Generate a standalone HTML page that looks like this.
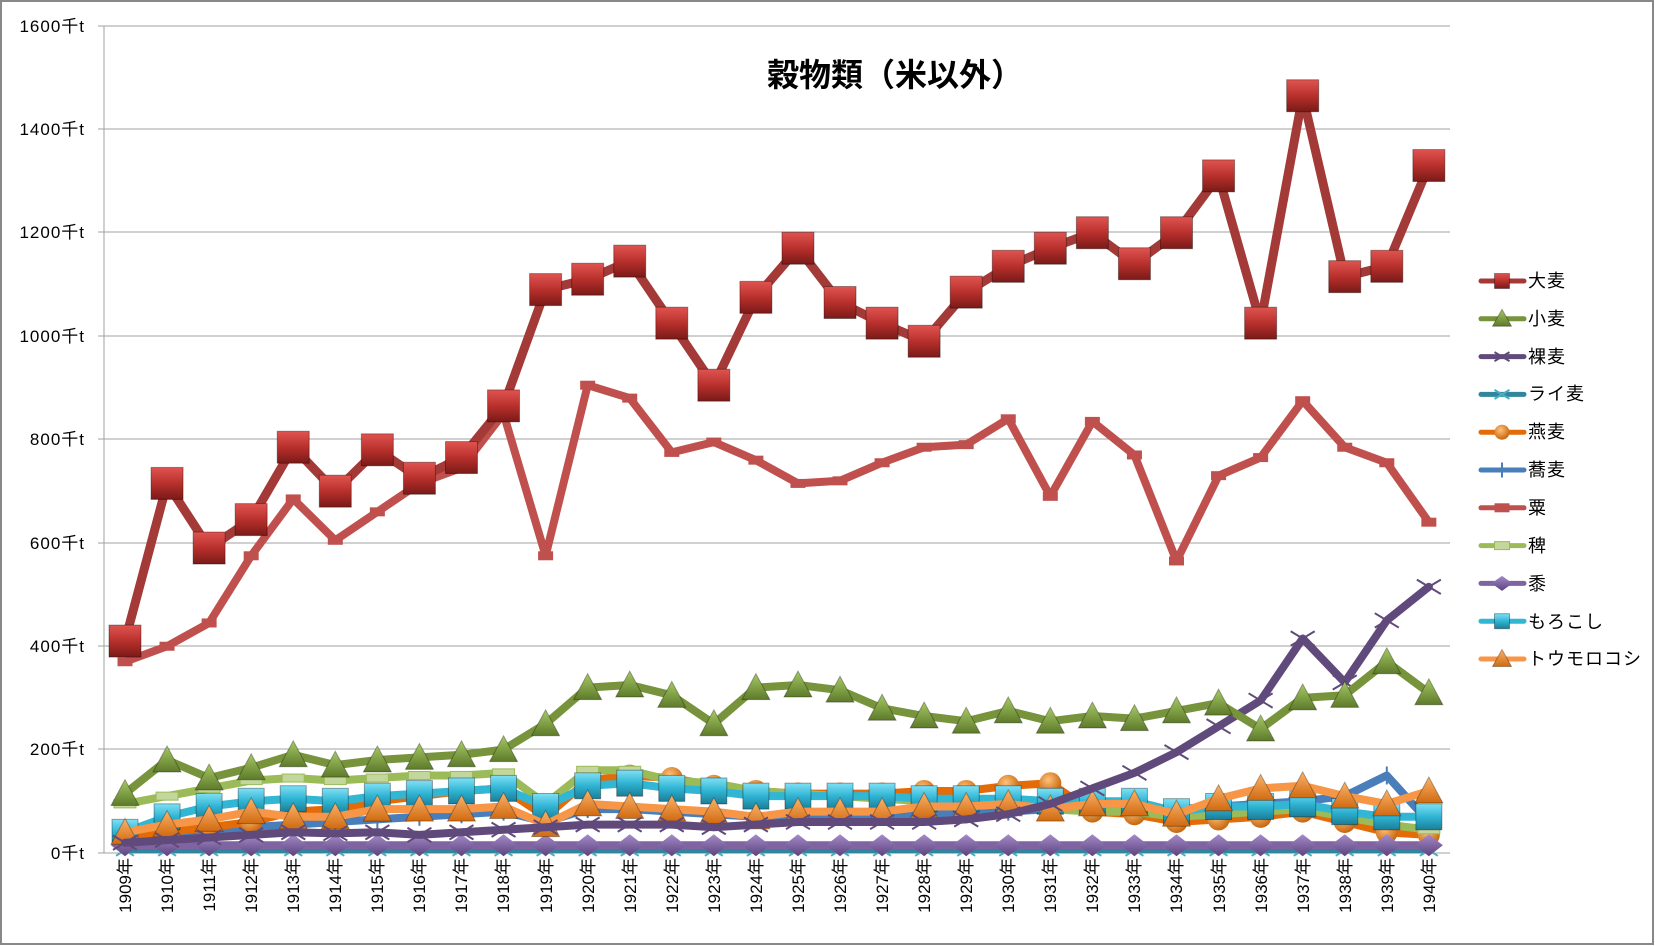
<!DOCTYPE html>
<html><head><meta charset="utf-8"><style>
html,body{margin:0;padding:0;background:#fff}
svg{display:block}
text{font-family:"Liberation Sans","Noto Sans CJK JP",sans-serif}
</style></head><body>
<svg id="s" width="1655" height="946" viewBox="0 0 1655 946" xmlns="http://www.w3.org/2000/svg">
<defs>
<linearGradient id="gR" x1="0" y1="0" x2="0" y2="1"><stop offset="0" stop-color="#e05450"/><stop offset="0.5" stop-color="#b8302c"/><stop offset="1" stop-color="#7a1a18"/></linearGradient>
<linearGradient id="gG" x1="0" y1="0" x2="0" y2="1"><stop offset="0" stop-color="#a6c964"/><stop offset="1" stop-color="#5d7a2a"/></linearGradient>
<linearGradient id="gC" x1="0" y1="0" x2="0" y2="1"><stop offset="0" stop-color="#7fe0f4"/><stop offset="0.5" stop-color="#2fb4d4"/><stop offset="1" stop-color="#1b7e98"/></linearGradient>
<linearGradient id="gO" x1="0" y1="0" x2="0" y2="1"><stop offset="0" stop-color="#fbb26a"/><stop offset="1" stop-color="#d06a10"/></linearGradient>
<radialGradient id="gOc" cx="0.4" cy="0.35" r="0.7"><stop offset="0" stop-color="#ffc27a"/><stop offset="1" stop-color="#c35f07"/></radialGradient>
<linearGradient id="gP" x1="0" y1="0" x2="0" y2="1"><stop offset="0" stop-color="#a58bc8"/><stop offset="1" stop-color="#5b437e"/></linearGradient>
</defs>
<rect x="1" y="1" width="1652" height="943" fill="#fff" stroke="#888" stroke-width="2"/>
<g stroke="#a0a0a0" stroke-width="1">
<line x1="98" y1="26" x2="1450" y2="26"/><line x1="98" y1="129" x2="1450" y2="129"/><line x1="98" y1="232" x2="1450" y2="232"/><line x1="98" y1="336" x2="1450" y2="336"/><line x1="98" y1="439" x2="1450" y2="439"/><line x1="98" y1="543" x2="1450" y2="543"/><line x1="98" y1="646" x2="1450" y2="646"/><line x1="98" y1="749" x2="1450" y2="749"/><line x1="98" y1="853" x2="1450" y2="853"/>
<line x1="104" y1="26" x2="104" y2="853"/>
</g>
<g font-size="17" text-anchor="end" fill="#000" letter-spacing="1">
<text x="85" y="32">1600千t</text><text x="85" y="135">1400千t</text><text x="85" y="238">1200千t</text><text x="85" y="342">1000千t</text><text x="85" y="445">800千t</text><text x="85" y="549">600千t</text><text x="85" y="652">400千t</text><text x="85" y="755">200千t</text><text x="85" y="859">0千t</text>
</g>
<text x="895" y="86" font-size="32" font-weight="bold" text-anchor="middle">穀物類（米以外）</text>
<g id="series"></g>
<g id="leg"></g>
<g font-size="18" fill="#000" letter-spacing="1">
<text x="1528" y="287">大麦</text><text x="1528" y="325">小麦</text><text x="1528" y="363">裸麦</text><text x="1528" y="400">ライ麦</text><text x="1528" y="438">燕麦</text><text x="1528" y="476">蕎麦</text><text x="1528" y="514">粟</text><text x="1528" y="552">稗</text><text x="1528" y="590">黍</text><text x="1528" y="628">もろこし</text><text x="1528" y="665">トウモロコシ</text>
</g>
<g font-size="17" fill="#000">
<text transform="translate(131,858) rotate(-90)" text-anchor="end">1909年</text>
<text transform="translate(173,858) rotate(-90)" text-anchor="end">1910年</text>
<text transform="translate(215,858) rotate(-90)" text-anchor="end">1911年</text>
<text transform="translate(257,858) rotate(-90)" text-anchor="end">1912年</text>
<text transform="translate(299,858) rotate(-90)" text-anchor="end">1913年</text>
<text transform="translate(341,858) rotate(-90)" text-anchor="end">1914年</text>
<text transform="translate(383,858) rotate(-90)" text-anchor="end">1915年</text>
<text transform="translate(425,858) rotate(-90)" text-anchor="end">1916年</text>
<text transform="translate(467,858) rotate(-90)" text-anchor="end">1917年</text>
<text transform="translate(509,858) rotate(-90)" text-anchor="end">1918年</text>
<text transform="translate(552,858) rotate(-90)" text-anchor="end">1919年</text>
<text transform="translate(594,858) rotate(-90)" text-anchor="end">1920年</text>
<text transform="translate(636,858) rotate(-90)" text-anchor="end">1921年</text>
<text transform="translate(678,858) rotate(-90)" text-anchor="end">1922年</text>
<text transform="translate(720,858) rotate(-90)" text-anchor="end">1923年</text>
<text transform="translate(762,858) rotate(-90)" text-anchor="end">1924年</text>
<text transform="translate(804,858) rotate(-90)" text-anchor="end">1925年</text>
<text transform="translate(846,858) rotate(-90)" text-anchor="end">1926年</text>
<text transform="translate(888,858) rotate(-90)" text-anchor="end">1927年</text>
<text transform="translate(930,858) rotate(-90)" text-anchor="end">1928年</text>
<text transform="translate(972,858) rotate(-90)" text-anchor="end">1929年</text>
<text transform="translate(1014,858) rotate(-90)" text-anchor="end">1930年</text>
<text transform="translate(1056,858) rotate(-90)" text-anchor="end">1931年</text>
<text transform="translate(1098,858) rotate(-90)" text-anchor="end">1932年</text>
<text transform="translate(1140,858) rotate(-90)" text-anchor="end">1933年</text>
<text transform="translate(1182,858) rotate(-90)" text-anchor="end">1934年</text>
<text transform="translate(1225,858) rotate(-90)" text-anchor="end">1935年</text>
<text transform="translate(1267,858) rotate(-90)" text-anchor="end">1936年</text>
<text transform="translate(1309,858) rotate(-90)" text-anchor="end">1937年</text>
<text transform="translate(1351,858) rotate(-90)" text-anchor="end">1938年</text>
<text transform="translate(1393,858) rotate(-90)" text-anchor="end">1939年</text>
<text transform="translate(1435,858) rotate(-90)" text-anchor="end">1940年</text>
</g>
</svg>
<script>
var NS="http://www.w3.org/2000/svg";
function X(i){return 125+42.06*i}
function Y(v){return 853-v*0.5169}
var S=[
 ["ライ麦","#31859c",6,"x","#4bacc6",18,[5,5,5,5,5,5,5,5,5,5,5,5,5,5,5,5,5,5,5,5,5,5,5,5,5,5,5,5,5,5,5,5]],
 ["蕎麦","#4a7ebb",8,"plus","#4a7ebb",18,[20,30,40,50,55,60,65,70,75,80,60,85,85,80,75,70,70,70,70,75,75,80,85,90,90,85,90,95,100,110,150,60]],
 ["燕麦","#e36c09",8,"circle","url(#gOc)",22,[30,40,50,60,80,85,100,110,120,125,70,140,150,145,130,120,115,115,115,120,120,130,135,80,75,60,65,70,80,60,40,35]],
 ["稗","#9bbb59",8,"dash","#c3d69b",22,[95,110,125,140,145,140,145,150,150,155,95,160,160,140,135,120,115,110,105,100,95,95,85,80,80,70,75,80,85,70,55,45]],
 ["もろこし","#31b6d4",8,"square","url(#gC)",26,[40,70,90,100,105,100,110,115,120,125,90,130,135,125,120,110,110,110,110,105,105,105,100,100,100,80,90,90,95,80,70,70]],
 ["黍","#8064a2",8,"diamond","url(#gP)",22,[15,15,15,15,15,15,15,15,15,15,15,15,15,15,15,15,15,15,15,15,15,15,15,15,15,15,15,15,15,15,15,15]],
 ["トウモロコシ","#f79646",8,"tri","url(#gO)",24,[40,55,65,80,70,70,85,85,85,90,55,95,90,85,80,70,80,80,80,90,90,95,85,95,95,75,105,125,130,110,95,120]],
 ["裸麦","#604a7b",8,"x","#604a7b",24,[20,25,30,35,40,38,40,35,40,45,50,55,55,55,50,55,60,60,60,60,65,75,95,125,155,195,245,295,415,330,450,515]],
 ["小麦","#77933c",8,"tri","url(#gG)",24,[115,180,145,165,190,170,180,185,190,200,250,320,325,305,250,320,325,315,280,265,255,275,255,265,260,275,290,240,300,305,370,310]],
 ["粟","#c0504d",8,"dash","#c0504d",14,[370,400,445,575,685,605,660,715,745,850,575,905,880,775,795,760,715,720,755,785,790,840,690,835,770,565,730,765,875,785,755,640]],
 ["大麦","#a33a37",9,"square","url(#gR)",32,[410,715,590,645,785,700,780,725,765,865,1090,1110,1145,1025,905,1075,1170,1065,1025,990,1085,1135,1170,1200,1140,1200,1310,1025,1465,1115,1135,1330]]
];
function el(t,a,p){var e=document.createElementNS(NS,t);for(var k in a)e.setAttribute(k,a[k]);p.appendChild(e);return e}
function marker(g,type,x,y,s,fill,col){
 var h=s/2;
 if(type=="square")el("rect",{x:x-h,y:y-h,width:s,height:s,fill:fill,stroke:"rgba(0,0,0,0.35)","stroke-width":1},g);
 else if(type=="tri")el("polygon",{points:(x)+","+(y-h-2)+" "+(x+h+2)+","+(y+h)+" "+(x-h-2)+","+(y+h),fill:fill,stroke:"rgba(0,0,0,0.3)","stroke-width":1},g);
 else if(type=="diamond")el("polygon",{points:x+","+(y-h)+" "+(x+h+3)+","+y+" "+x+","+(y+h)+" "+(x-h-3)+","+y,fill:fill},g);
 else if(type=="circle")el("circle",{cx:x,cy:y,r:h,fill:fill},g);
 else if(type=="x"){el("line",{x1:x-h,y1:y-h*0.6,x2:x+h,y2:y+h*0.6,stroke:fill,"stroke-width":2},g);el("line",{x1:x-h,y1:y+h*0.6,x2:x+h,y2:y-h*0.6,stroke:fill,"stroke-width":2},g);}
 else if(type=="plus"){el("line",{x1:x,y1:y-h,x2:x,y2:y+h,stroke:fill,"stroke-width":2},g);}
 else if(type=="dash")el("rect",{x:x-h,y:y-4,width:s,height:8,fill:fill,stroke:col,"stroke-width":1},g);
}
var g=document.getElementById("series");
S.forEach(function(s){
 var pts=s[6].map(function(v,i){return X(i).toFixed(1)+","+Y(v).toFixed(1)}).join(" ");
 el("polyline",{points:pts,fill:"none",stroke:s[1],"stroke-width":s[2],"stroke-linejoin":"round","stroke-linecap":"round"},g);
 s[6].forEach(function(v,i){marker(g,s[3],X(i),Y(v),s[5],s[4],s[1])});
});
var L=document.getElementById("leg");
var order=["大麦","小麦","裸麦","ライ麦","燕麦","蕎麦","粟","稗","黍","もろこし","トウモロコシ"];
order.forEach(function(n,k){
 var s=S.filter(function(q){return q[0]==n})[0];var y=281+k*37.8;
 el("line",{x1:1481,y1:y,x2:1524,y2:y,stroke:s[1],"stroke-width":5,"stroke-linecap":"round"},L);
 marker(L,s[3],1502,y,Math.min(s[5],15),s[4],s[1]);
});
</script>
</body></html>
